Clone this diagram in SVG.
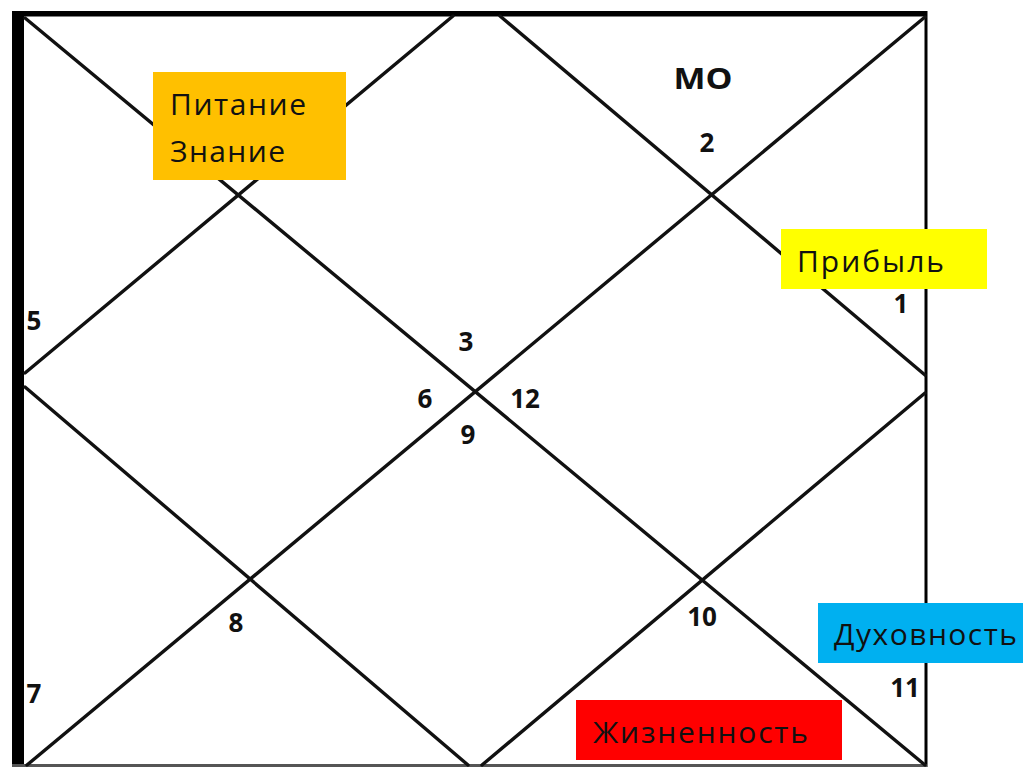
<svg xmlns="http://www.w3.org/2000/svg" width="1023" height="767" viewBox="0 0 1023 767">
<style>
.ln{stroke:#111;stroke-width:3.4;fill:none;stroke-linecap:round}
.num{font-family:"Open Sans","Liberation Sans",sans-serif;font-weight:bold;font-size:26px;fill:#111;text-anchor:middle}
.lbl{font-family:"Open Sans","Liberation Sans",sans-serif;font-size:30px;fill:#111}
</style>
<rect width="1023" height="767" fill="#fff"/>
<g id="frame">
<rect x="12" y="11" width="915" height="5.5" fill="#000"/>
<rect x="12" y="11" width="12" height="756" fill="#000"/>
<rect x="924.5" y="11" width="3" height="756" fill="#000"/>
<rect x="12" y="764" width="915" height="3" fill="#555"/>
</g>
<g id="lines">
<line class="ln" x1="25" y1="18" x2="925" y2="765"/>
<line class="ln" x1="925" y1="17" x2="27" y2="765"/>
<line class="ln" x1="25" y1="373" x2="453" y2="16"/>
<line class="ln" x1="500" y1="16" x2="925" y2="375"/>
<line class="ln" x1="925" y1="393" x2="482" y2="765"/>
<line class="ln" x1="25" y1="387" x2="468" y2="765"/>
</g>
<g id="numbers">
<text class="num" x="703" y="89" style="font-size:29px" textLength="59" lengthAdjust="spacingAndGlyphs">МО</text>
<text class="num" x="707" y="152">2</text>
<text class="num" x="901" y="313">1</text>
<text class="num" x="34" y="330">5</text>
<text class="num" x="466" y="351">3</text>
<text class="num" x="425" y="408">6</text>
<text class="num" x="525" y="408">12</text>
<text class="num" x="468" y="444">9</text>
<text class="num" x="236" y="632">8</text>
<text class="num" x="702" y="626">10</text>
<text class="num" x="34" y="703">7</text>
<text class="num" x="905" y="697">11</text>
</g>
<g id="box-pitanie">
<rect x="153" y="72" width="193" height="108" fill="#FFC000"/>
<text class="lbl" x="170" y="115" textLength="136">Питание</text>
<text class="lbl" x="170" y="162" textLength="115">Знание</text>
</g>
<g id="box-pribyl">
<rect x="781" y="229" width="206" height="60" fill="#FFFF00"/>
<text class="lbl" x="797" y="272" textLength="147">Прибыль</text>
</g>
<g id="box-duhovnost">
<rect x="818" y="603" width="205" height="60" fill="#00B0F0"/>
<text class="lbl" x="834" y="645" textLength="183">Духовность</text>
</g>
<g id="box-zhiznennost">
<rect x="576" y="700" width="266" height="60" fill="#FF0000"/>
<text class="lbl" x="593" y="743" textLength="215">Жизненность</text>
</g>
</svg>
